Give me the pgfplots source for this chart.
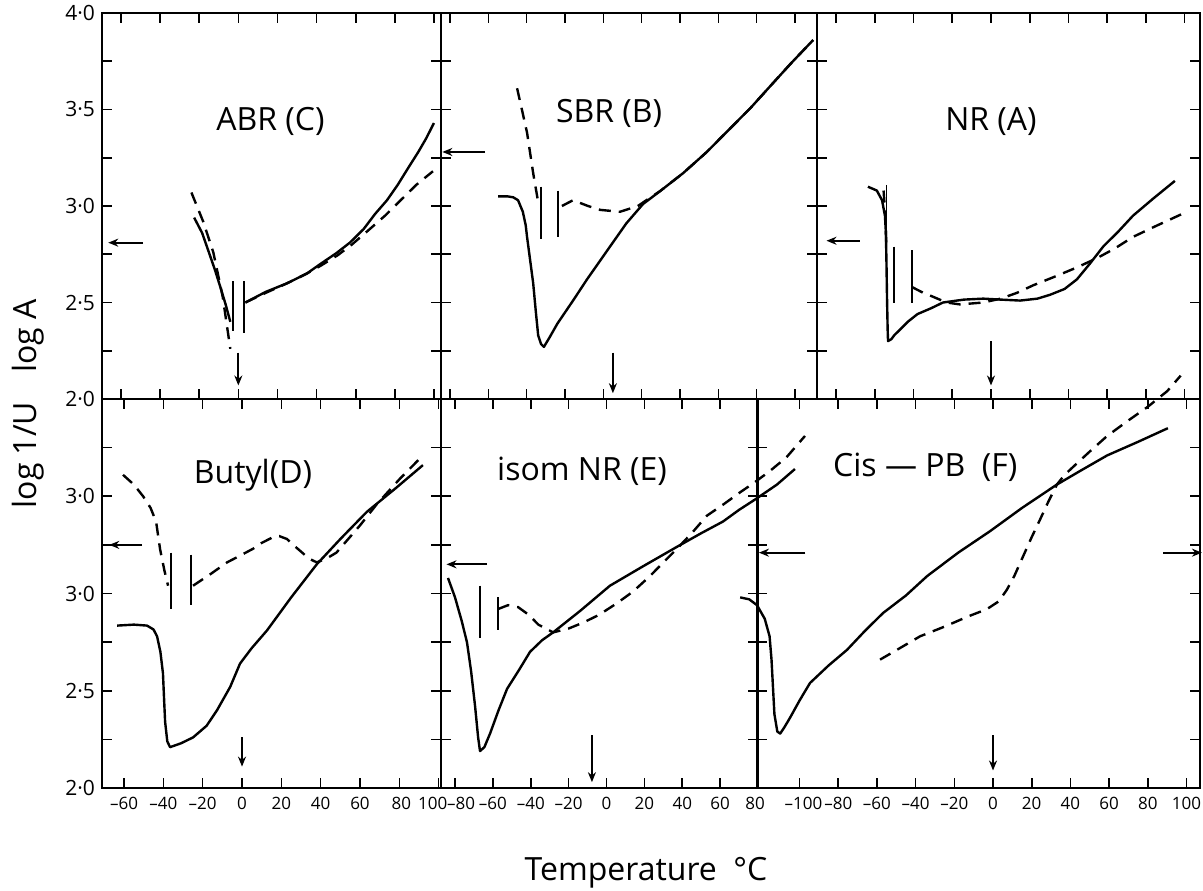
\documentclass[border=0pt]{standalone}
\usepackage{fontspec}
\setmainfont{Open Sans}
\usepackage{pgfplots}
\pgfplotsset{compat=1.18}
\usetikzlibrary{arrows.meta}

\pgfplotsset{
  panel/.style={
    scale only axis, anchor=south west, clip=false,
    axis line style={line width=0.9pt},
    tick align=inside, major tick length=5pt,
    tick style={line width=0.8pt, black},
    ymin=2, ymax=4, ytick={2,2.25,2.5,2.75,3,3.25,3.5,3.75,4},
    yticklabels={}, unbounded coords=jump,
    xticklabel style={font=\fontsize{8.5}{9}\selectfont, yshift=-1pt},
    yticklabel style={font=\fontsize{10.5}{11}\selectfont},
  },
}
\tikzset{
  mySolid/.style={black, line width=1.2pt, line join=round},
  myDash/.style={black, line width=1.2pt, dash pattern=on 6pt off 4pt},
  myMark/.style={black, line width=0.9pt},
  myTick/.style={black, line width=0.8pt},
  myArrow/.style={black, line width=0.9pt, -{Stealth[length=5pt,width=4pt]}},
  myTitle/.style={font=\fontsize{16}{18}\selectfont},
}

\begin{document}
\begin{tikzpicture}
\useasboundingbox (0,0) rectangle (601.5pt,445pt);

% ---------- ABR (C) ----------
\begin{axis}[panel, at={(51pt,245.5pt)}, width=169.5pt, height=193pt,
  xmin=-69.7, xmax=103.6, xtick={-60,-40,-20,0,20,40,60,80,100}, xticklabels={},
  yticklabels={2·0,{},2·5,{},3·0,{},3·5,{},4·0}]
\addplot[myTick, forget plot] coordinates {(-60,2)(-60,2.052)(-60,nan)(-60,4)(-60,3.948)(-60,nan)(-40,2)(-40,2.052)(-40,nan)(-40,4)(-40,3.948)(-40,nan)(-20,2)(-20,2.052)(-20,nan)(-20,4)(-20,3.948)(-20,nan)(0,2)(0,2.052)(0,nan)(0,4)(0,3.948)(0,nan)(20,2)(20,2.052)(20,nan)(20,4)(20,3.948)(20,nan)(40,2)(40,2.052)(40,nan)(40,4)(40,3.948)(40,nan)(60,2)(60,2.052)(60,nan)(60,4)(60,3.948)(60,nan)(80,2)(80,2.052)(80,nan)(80,4)(80,3.948)(80,nan)(100,2)(100,2.052)(100,nan)(100,4)(100,3.948)};
\addplot[myTick, forget plot] coordinates {(-69.7,2.25)(-64.6,2.25)(nan,2.25)(103.6,2.25)(98.5,2.25)(nan,2.25)(-69.7,2.5)(-64.6,2.5)(nan,2.5)(103.6,2.5)(98.5,2.5)(nan,2.5)(-69.7,2.75)(-64.6,2.75)(nan,2.75)(103.6,2.75)(98.5,2.75)(nan,2.75)(-69.7,3)(-64.6,3)(nan,3)(103.6,3)(98.5,3)(nan,3)(-69.7,3.25)(-64.6,3.25)(nan,3.25)(103.6,3.25)(98.5,3.25)(nan,3.25)(-69.7,3.5)(-64.6,3.5)(nan,3.5)(103.6,3.5)(98.5,3.5)(nan,3.5)(-69.7,3.75)(-64.6,3.75)(nan,3.75)(103.6,3.75)(98.5,3.75)};
\addplot[mySolid] coordinates {(-22.6,2.94) (-18.5,2.86) (-15.4,2.77) (-12,2.67) (-9.2,2.58) (-6.5,2.49) (-4.1,2.40)};
\addplot[mySolid] coordinates {(3.6,2.50) (14,2.555) (25,2.60) (35,2.65) (42,2.70) (50,2.755) (57,2.81) (64,2.88) (70,2.96) (76,3.03) (81.5,3.11) (87,3.20) (92,3.28) (96,3.35) (100,3.43)};
\addplot[myDash] coordinates {(-24,3.07) (-18,2.92) (-12.8,2.76) (-8,2.53) (-4.1,2.26)};
\addplot[myDash] coordinates {(3.6,2.50) (14,2.55) (25,2.60) (35,2.65) (42,2.69) (50.8,2.745) (58,2.80) (66,2.87) (75,2.95) (83,3.03) (91,3.11) (99.5,3.18)};
\draw[myMark] (axis cs:-2.9,2.61) -- (axis cs:-2.9,2.35);
\draw[myMark] (axis cs:2.7,2.61) -- (axis cs:2.7,2.34);
\draw[myArrow] (axis cs:-48.7,2.81) -- (axis cs:-66.5,2.81);
\draw[myArrow] (axis cs:0,2.24) -- (axis cs:0,2.07);
\node[myTitle] at (axis cs:16.4,3.44) {ABR (C)};
\end{axis}

% ---------- SBR (B) ----------
\begin{axis}[panel, at={(220.5pt,245.5pt)}, width=188pt, height=193pt,
  xmin=-84.7, xmax=111.5, xtick={-80,-60,-40,-20,0,20,40,60,80,100}, xticklabels={}]
\addplot[myTick, forget plot] coordinates {(-80,2)(-80,2.052)(-80,nan)(-80,4)(-80,3.948)(-80,nan)(-60,2)(-60,2.052)(-60,nan)(-60,4)(-60,3.948)(-60,nan)(-40,2)(-40,2.052)(-40,nan)(-40,4)(-40,3.948)(-40,nan)(-20,2)(-20,2.052)(-20,nan)(-20,4)(-20,3.948)(-20,nan)(0,2)(0,2.052)(0,nan)(0,4)(0,3.948)(0,nan)(20,2)(20,2.052)(20,nan)(20,4)(20,3.948)(20,nan)(40,2)(40,2.052)(40,nan)(40,4)(40,3.948)(40,nan)(60,2)(60,2.052)(60,nan)(60,4)(60,3.948)(60,nan)(80,2)(80,2.052)(80,nan)(80,4)(80,3.948)(80,nan)(100,2)(100,2.052)(100,nan)(100,4)(100,3.948)};
\addplot[myTick, forget plot] coordinates {(-84.7,2.25)(-79.5,2.25)(nan,2.25)(111.5,2.25)(106.3,2.25)(nan,2.25)(-84.7,2.5)(-79.5,2.5)(nan,2.5)(111.5,2.5)(106.3,2.5)(nan,2.5)(-84.7,2.75)(-79.5,2.75)(nan,2.75)(111.5,2.75)(106.3,2.75)(nan,2.75)(-84.7,3)(-79.5,3)(nan,3)(111.5,3)(106.3,3)(nan,3)(-84.7,3.25)(-79.5,3.25)(nan,3.25)(111.5,3.25)(106.3,3.25)(nan,3.25)(-84.7,3.5)(-79.5,3.5)(nan,3.5)(111.5,3.5)(106.3,3.5)(nan,3.5)(-84.7,3.75)(-79.5,3.75)(nan,3.75)(111.5,3.75)(106.3,3.75)};
\addplot[mySolid] coordinates {(-54.9,3.05) (-50,3.05) (-47,3.045) (-44.5,3.03) (-42,2.97) (-40.5,2.90) (-39.8,2.84) (-38.2,2.72) (-36.6,2.60) (-35.2,2.45) (-34,2.33) (-32.5,2.285) (-31,2.27) (-28,2.32) (-24,2.39) (-15.8,2.51) (-8.5,2.62) (3.5,2.79) (12,2.91) (20.7,3.01) (30,3.08) (41.6,3.17) (54,3.28) (66,3.40) (77,3.51) (87,3.62) (98,3.74) (109.5,3.86)};
\addplot[myDash] coordinates {(-45,3.61) (-42.5,3.50) (-39.8,3.38) (-36.6,3.17) (-34,3.02)};
\addplot[myDash] coordinates {(-21.6,3.00) (-15.8,3.03) (-8,3.00) (-1.7,2.98) (8.7,2.97) (18,3.00) (30,3.08) (41.6,3.17) (54,3.28) (66,3.40) (77,3.51) (87,3.62) (98,3.74) (109.5,3.86)};
\draw[myMark] (axis cs:-32.4,3.10) -- (axis cs:-32.4,2.83);
\draw[myMark] (axis cs:-23.6,3.08) -- (axis cs:-23.6,2.84);
\draw[myArrow] (axis cs:-61.7,3.28) -- (axis cs:-84,3.28);
\draw[myArrow] (axis cs:5,2.24) -- (axis cs:5,2.03);
\node[myTitle] at (axis cs:3,3.48) {SBR (B)};
\end{axis}

% ---------- NR (A) ----------
\begin{axis}[panel, at={(408.5pt,245.5pt)}, width=191.5pt, height=193pt,
  xmin=-89.9, xmax=108, xtick={-80,-60,-40,-20,0,20,40,60,80,100}, xticklabels={}]
\addplot[myTick, forget plot] coordinates {(-80,2)(-80,2.052)(-80,nan)(-80,4)(-80,3.948)(-80,nan)(-60,2)(-60,2.052)(-60,nan)(-60,4)(-60,3.948)(-60,nan)(-40,2)(-40,2.052)(-40,nan)(-40,4)(-40,3.948)(-40,nan)(-20,2)(-20,2.052)(-20,nan)(-20,4)(-20,3.948)(-20,nan)(0,2)(0,2.052)(0,nan)(0,4)(0,3.948)(0,nan)(20,2)(20,2.052)(20,nan)(20,4)(20,3.948)(20,nan)(40,2)(40,2.052)(40,nan)(40,4)(40,3.948)(40,nan)(60,2)(60,2.052)(60,nan)(60,4)(60,3.948)(60,nan)(80,2)(80,2.052)(80,nan)(80,4)(80,3.948)(80,nan)(100,2)(100,2.052)(100,nan)(100,4)(100,3.948)};
\addplot[myTick, forget plot] coordinates {(-89.9,2.25)(-84.7,2.25)(nan,2.25)(108,2.25)(102.8,2.25)(nan,2.25)(-89.9,2.5)(-84.7,2.5)(nan,2.5)(108,2.5)(102.8,2.5)(nan,2.5)(-89.9,2.75)(-84.7,2.75)(nan,2.75)(108,2.75)(102.8,2.75)(nan,2.75)(-89.9,3)(-84.7,3)(nan,3)(108,3)(102.8,3)(nan,3)(-89.9,3.25)(-84.7,3.25)(nan,3.25)(108,3.25)(102.8,3.25)(nan,3.25)(-89.9,3.5)(-84.7,3.5)(nan,3.5)(108,3.5)(102.8,3.5)(nan,3.5)(-89.9,3.75)(-84.7,3.75)(nan,3.75)(108,3.75)(102.8,3.75)};
\addplot[mySolid] coordinates {(-63.6,3.10) (-59,3.08) (-56.3,3.03) (-54.8,2.95) (-54.3,2.86) (-54,2.70) (-53.7,2.51) (-53.4,2.36) (-53.2,2.30) (-51.5,2.31) (-50,2.33) (-47,2.36) (-43,2.40) (-38,2.44) (-31,2.47) (-24.8,2.50) (-14,2.515) (-4,2.52) (5,2.515) (15,2.51) (24,2.52) (30.5,2.54) (38,2.57) (44.4,2.62) (51,2.70) (58,2.79) (66,2.87) (73.4,2.95) (84,3.04) (95,3.13)};
\addplot[myDash] coordinates {(-55.5,3.08) (-54.6,2.95) (-54.1,2.80)};
\addplot[myDash] coordinates {(-40.8,2.58) (-35,2.55) (-30,2.53) (-23,2.50) (-16,2.49) (-4,2.50) (5,2.52) (13.4,2.55) (22,2.59) (32,2.63) (44,2.68) (54.8,2.73) (64,2.78) (73.4,2.84) (86,2.90) (99,2.96)};
\draw[myMark] (axis cs:-54.0,3.11) -- (axis cs:-54.0,2.86);
\draw[myMark] (axis cs:-50.0,2.79) -- (axis cs:-50.0,2.50);
\draw[myMark] (axis cs:-40.8,2.77) -- (axis cs:-40.8,2.50);
\draw[myArrow] (axis cs:-67.7,2.82) -- (axis cs:-85,2.82);
\draw[myArrow] (axis cs:0,2.30) -- (axis cs:0,2.07);
\node[myTitle] at (axis cs:0,3.44) {NR (A)};
\end{axis}

% ---------- Butyl (D) ----------
\begin{axis}[panel, at={(51pt,51pt)}, width=169.5pt, height=194.5pt,
  xmin=-71.2, xmax=101.2, xtick={-60,-40,-20,0,20,40,60,80,100},
  xticklabels={–60,–40,–20,0,20,40,60,{\makebox[0pt]{\kern2pt 80}},{\makebox[0pt]{\kern-6pt 100}}},
  yticklabels={2·0,{},2·5,{},3·0,{},3·0,{},{}}]
\addplot[myTick, forget plot] coordinates {(-60,2)(-60,2.052)(-60,nan)(-60,4)(-60,3.948)(-60,nan)(-40,2)(-40,2.052)(-40,nan)(-40,4)(-40,3.948)(-40,nan)(-20,2)(-20,2.052)(-20,nan)(-20,4)(-20,3.948)(-20,nan)(0,2)(0,2.052)(0,nan)(0,4)(0,3.948)(0,nan)(20,2)(20,2.052)(20,nan)(20,4)(20,3.948)(20,nan)(40,2)(40,2.052)(40,nan)(40,4)(40,3.948)(40,nan)(60,2)(60,2.052)(60,nan)(60,4)(60,3.948)(60,nan)(80,2)(80,2.052)(80,nan)(80,4)(80,3.948)(80,nan)(100,2)(100,2.052)(100,nan)(100,4)(100,3.948)};
\addplot[myTick, forget plot] coordinates {(-71.2,2.25)(-66.1,2.25)(nan,2.25)(101.2,2.25)(96.1,2.25)(nan,2.25)(-71.2,2.5)(-66.1,2.5)(nan,2.5)(101.2,2.5)(96.1,2.5)(nan,2.5)(-71.2,2.75)(-66.1,2.75)(nan,2.75)(101.2,2.75)(96.1,2.75)(nan,2.75)(-71.2,3)(-66.1,3)(nan,3)(101.2,3)(96.1,3)(nan,3)(-71.2,3.25)(-66.1,3.25)(nan,3.25)(101.2,3.25)(96.1,3.25)(nan,3.25)(-71.2,3.5)(-66.1,3.5)(nan,3.5)(101.2,3.5)(96.1,3.5)(nan,3.5)(-71.2,3.75)(-66.1,3.75)(nan,3.75)(101.2,3.75)(96.1,3.75)};
\addplot[mySolid] coordinates {(-63.5,2.835) (-55,2.84) (-48.3,2.835) (-45,2.815) (-43.2,2.78) (-41.5,2.70) (-40.2,2.59) (-39.6,2.45) (-39.1,2.34) (-38,2.24) (-36.6,2.21) (-31,2.23) (-24.9,2.26) (-18,2.32) (-12.7,2.40) (-6,2.52) (-1,2.64) (5,2.72) (12.7,2.81) (25,2.98) (38,3.15) (50,3.28) (63.5,3.42) (78,3.54) (92,3.66)};
\addplot[myDash] coordinates {(-60.5,3.61) (-55,3.56) (-50.3,3.50) (-46.5,3.44) (-43.7,3.37) (-41.7,3.23) (-39.5,3.12) (-37.6,3.04)};
\addplot[myDash] coordinates {(-24.9,3.04) (-16,3.10) (-7.6,3.16) (0,3.20) (5.6,3.23) (10,3.26) (15.8,3.29) (19,3.295) (22.9,3.28) (26,3.25) (29.5,3.22) (34,3.18) (38,3.16) (43,3.18) (48,3.21) (54,3.28) (60,3.35) (68.6,3.46) (80.3,3.59) (92,3.71)};
\draw[myMark] (axis cs:-36.1,3.21) -- (axis cs:-36.1,2.92);
\draw[myMark] (axis cs:-26,3.20) -- (axis cs:-26,2.94);
\draw[myArrow] (axis cs:-50.8,3.25) -- (axis cs:-67.5,3.25);
\draw[myArrow] (axis cs:0,2.26) -- (axis cs:0,2.11);
\node[myTitle] at (axis cs:5.6,3.61) {Butyl(D)};
\end{axis}

% ---------- isom NR (E) ----------
\begin{axis}[panel, at={(220.5pt,51pt)}, width=158.5pt, height=194.5pt,
  xmin=-87.4, xmax=80, xtick={-80,-60,-40,-20,0,20,40,60,80},
  xticklabels={{\makebox[0pt]{\kern6pt –80}},–60,–40,–20,0,20,40,60,{\makebox[0pt]{\kern-3pt 80}}}]
\addplot[myTick, forget plot] coordinates {(-80,2)(-80,2.052)(-80,nan)(-80,4)(-80,3.948)(-80,nan)(-60,2)(-60,2.052)(-60,nan)(-60,4)(-60,3.948)(-60,nan)(-40,2)(-40,2.052)(-40,nan)(-40,4)(-40,3.948)(-40,nan)(-20,2)(-20,2.052)(-20,nan)(-20,4)(-20,3.948)(-20,nan)(0,2)(0,2.052)(0,nan)(0,4)(0,3.948)(0,nan)(20,2)(20,2.052)(20,nan)(20,4)(20,3.948)(20,nan)(40,2)(40,2.052)(40,nan)(40,4)(40,3.948)(40,nan)(60,2)(60,2.052)(60,nan)(60,4)(60,3.948)};
\addplot[myTick, forget plot] coordinates {(-87.4,2.25)(-82.1,2.25)(nan,2.25)(80,2.25)(74.7,2.25)(nan,2.25)(-87.4,2.5)(-82.1,2.5)(nan,2.5)(80,2.5)(74.7,2.5)(nan,2.5)(-87.4,2.75)(-82.1,2.75)(nan,2.75)(80,2.75)(74.7,2.75)(nan,2.75)(-87.4,3)(-82.1,3)(nan,3)(80,3)(74.7,3)(nan,3)(-87.4,3.25)(-82.1,3.25)(nan,3.25)(80,3.25)(74.7,3.25)(nan,3.25)(-87.4,3.5)(-82.1,3.5)(nan,3.5)(80,3.5)(74.7,3.5)(nan,3.5)(-87.4,3.75)(-82.1,3.75)(nan,3.75)(80,3.75)(74.7,3.75)};
\addplot[mySolid] coordinates {(-83.7,3.08) (-80,2.98) (-76.5,2.86) (-73.7,2.75) (-71.5,2.60) (-69.4,2.42) (-67.8,2.26) (-66.8,2.19) (-64.5,2.21) (-61.5,2.28) (-57,2.40) (-52.5,2.51) (-46,2.61) (-40.4,2.70) (-34,2.76) (-28.2,2.80) (-14,2.91) (1.8,3.04) (19.3,3.14) (37.2,3.24) (50,3.31) (61.5,3.37) (70,3.43) (79.5,3.49) (90,3.56) (99.5,3.64)};
\addplot[myDash] coordinates {(-57.3,2.92) (-52,2.94) (-46.7,2.93) (-41,2.89) (-36,2.84) (-28.2,2.80) (-20,2.82) (-12.4,2.85) (-4,2.89) (5.5,2.95) (14,3.01) (23,3.09) (30,3.16) (37.2,3.23) (45,3.31) (53,3.40) (62,3.46) (70.5,3.52) (78,3.57) (86.3,3.63) (95,3.70) (104.8,3.81)};
\draw[myMark] (axis cs:-66.8,3.04) -- (axis cs:-66.8,2.77);
\draw[myMark] (axis cs:-57.3,2.98) -- (axis cs:-57.3,2.81);
\draw[myArrow] (axis cs:-63,3.15) -- (axis cs:-84.5,3.15);
\draw[myArrow] (axis cs:-7.7,2.27) -- (axis cs:-7.7,2.03);
\node[myTitle] at (axis cs:-12.9,3.63) {isom NR (E)};
\end{axis}

% ---------- Cis-PB (F) ----------
\begin{axis}[panel, at={(378.5pt,51pt)}, width=221.5pt, height=194.5pt,
  xmin=-122, xmax=107, xtick={-100,-80,-60,-40,-20,0,20,40,60,80,100},
  xticklabels={{\makebox[0pt]{\kern4pt –100}},–80,–60,–40,–20,0,20,40,60,80,100}]
\addplot[myTick, forget plot] coordinates {(-100,2)(-100,2.052)(-100,nan)(-100,4)(-100,3.948)(-100,nan)(-80,2)(-80,2.052)(-80,nan)(-80,4)(-80,3.948)(-80,nan)(-60,2)(-60,2.052)(-60,nan)(-60,4)(-60,3.948)(-60,nan)(-40,2)(-40,2.052)(-40,nan)(-40,4)(-40,3.948)(-40,nan)(-20,2)(-20,2.052)(-20,nan)(-20,4)(-20,3.948)(-20,nan)(0,2)(0,2.052)(0,nan)(0,4)(0,3.948)(0,nan)(20,2)(20,2.052)(20,nan)(20,4)(20,3.948)(20,nan)(40,2)(40,2.052)(40,nan)(40,4)(40,3.948)(40,nan)(60,2)(60,2.052)(60,nan)(60,4)(60,3.948)(60,nan)(80,2)(80,2.052)(80,nan)(80,4)(80,3.948)(80,nan)(100,2)(100,2.052)(100,nan)(100,4)(100,3.948)};
\addplot[myTick, forget plot] coordinates {(-122,2.25)(-116.8,2.25)(nan,2.25)(107,2.25)(101.8,2.25)(nan,2.25)(-122,2.5)(-116.8,2.5)(nan,2.5)(107,2.5)(101.8,2.5)(nan,2.5)(-122,2.75)(-116.8,2.75)(nan,2.75)(107,2.75)(101.8,2.75)(nan,2.75)(-122,3)(-116.8,3)(nan,3)(107,3)(101.8,3)(nan,3)(-122,3.25)(-116.8,3.25)(nan,3.25)(107,3.25)(101.8,3.25)(nan,3.25)(-122,3.5)(-116.8,3.5)(nan,3.5)(107,3.5)(101.8,3.5)(nan,3.5)(-122,3.75)(-116.8,3.75)(nan,3.75)(107,3.75)(101.8,3.75)};
\addplot[mySolid] coordinates {(-130.7,2.98) (-126,2.97) (-122,2.94) (-118,2.87) (-115.5,2.78) (-114.5,2.66) (-113.7,2.51) (-113,2.38) (-111.5,2.29) (-110,2.28) (-108,2.31) (-105,2.36) (-100,2.45) (-94.6,2.54) (-85,2.63) (-75.5,2.71) (-66,2.81) (-56.8,2.90) (-45,2.99) (-34,3.09) (-18,3.21) (-1.6,3.32) (15,3.44) (33,3.56) (45,3.63) (59,3.71) (75,3.78) (90.4,3.85)};
\addplot[myDash] coordinates {(-58.4,2.66) (-48,2.72) (-37.7,2.78) (-25,2.83) (-13.4,2.88) (-3.1,2.92) (3,2.96) (7.2,3.02) (11,3.09) (15.5,3.19) (20,3.29) (24.3,3.38) (28.5,3.47) (33,3.56) (37,3.61) (41.3,3.65) (50,3.73) (59,3.81) (70,3.89) (80,3.96) (90,4.04) (97,4.12)};
\draw[myArrow] (axis cs:-97,3.21) -- (axis cs:-121,3.21);
\draw[myArrow] (axis cs:88,3.21) -- (axis cs:108,3.21);
\draw[myArrow] (axis cs:0,2.27) -- (axis cs:0,2.09);
\node[myTitle] at (axis cs:-35,3.65) {Cis — PB\ \ (F)};
\end{axis}

\node[rotate=90, font=\fontsize{16}{18}\selectfont] at (14pt,277pt) {log A};
\node[rotate=90, font=\fontsize{16}{18}\selectfont] at (14pt,217.5pt) {log 1/U};
\node[font=\fontsize{16}{18}\selectfont] at (323pt,8.5pt) {Temperature ~°C};
\end{tikzpicture}
\end{document}
